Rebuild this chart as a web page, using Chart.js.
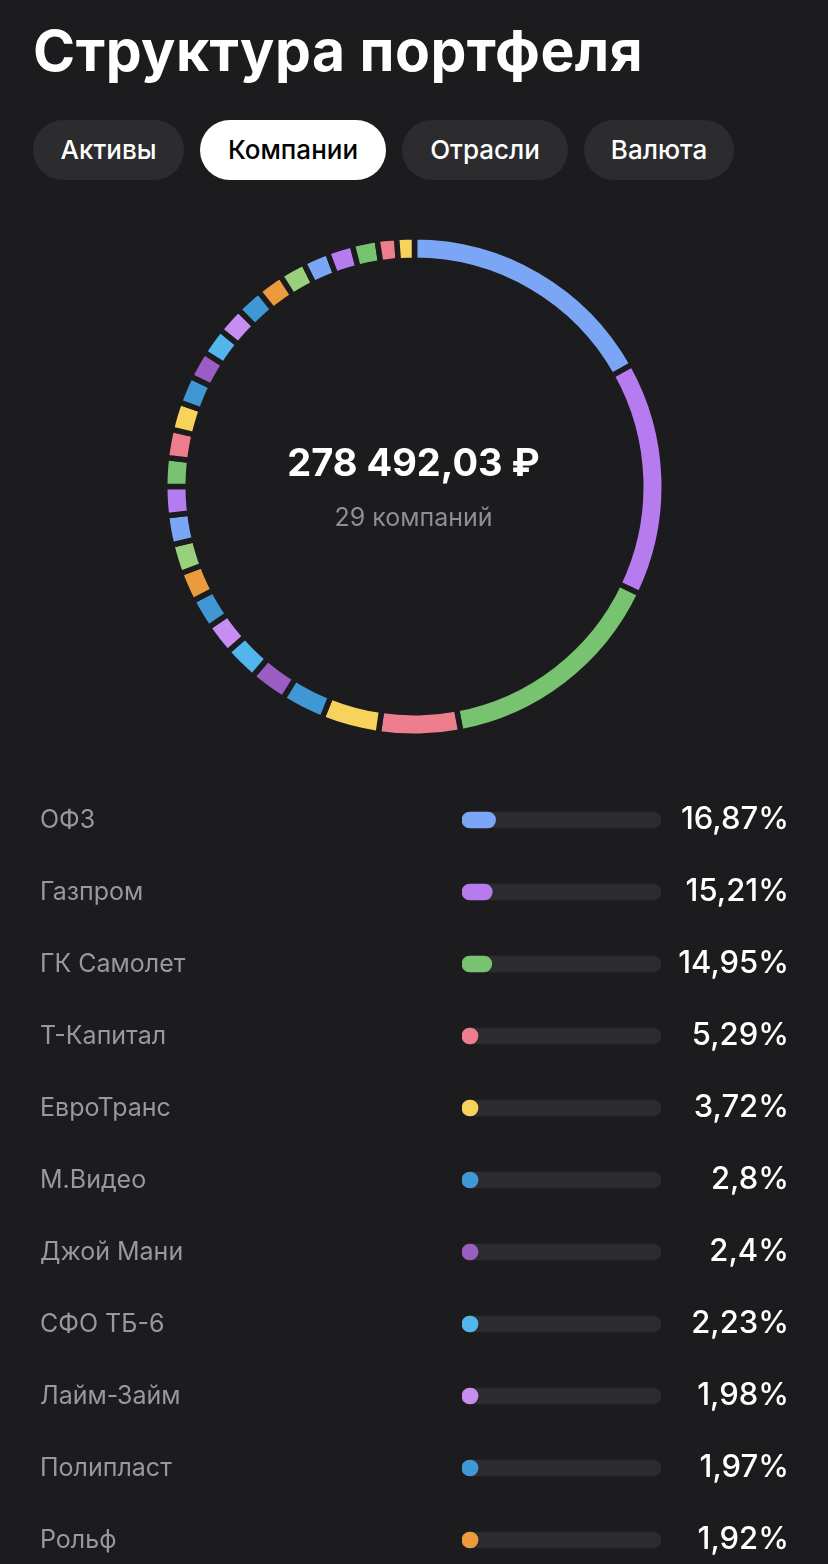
<!DOCTYPE html>
<html lang="ru">
<head>
<meta charset="utf-8">
<script src="https://cdn.jsdelivr.net/npm/chart.js@4.4.1/dist/chart.umd.min.js"></script>
<style>
  html, body { margin: 0; padding: 0; background: #1C1C1E; }
  body { width: 828px; height: 1564px; overflow: hidden; position: relative; font-family: Inter, "Noto Sans", sans-serif; }
  #title { position: absolute; left: 33px; top: 22px; font-size: 57px; font-weight: 700; color: #FFFFFF; line-height: 57px; letter-spacing: 0.5px; white-space: nowrap; }
  .tab { position: absolute; top: 120px; height: 60px; border-radius: 30px; background: #2C2C2E; color: #FFFFFF; font-size: 26px; font-weight: 500; line-height: 60px; text-align: center; white-space: nowrap; }
  .tab.active { background: #FFFFFF; color: #000000; }
  #donutBox { position: absolute; left: 161.5px; top: 234px; width: 505px; height: 505px; }
  #centerSum { position: absolute; left: 164px; width: 499px; top: 440px; text-align: center; font-size: 38px; font-weight: 700; color: #FFFFFF; line-height: 44px; white-space: nowrap; }
  #centerSub { position: absolute; left: 164px; width: 499px; top: 502px; text-align: center; font-size: 25px; font-weight: 400; color: #8E8E93; line-height: 30px; white-space: nowrap; }
  #listBox { position: absolute; left: 0; top: 784px; width: 828px; height: 792px; }
</style>
</head>
<body>
<div id="title">Структура портфеля</div>
<div class="tab" style="left:33px;width:151px;">Активы</div>
<div class="tab active" style="left:200px;width:186px;">Компании</div>
<div class="tab" style="left:402px;width:166px;">Отрасли</div>
<div class="tab" style="left:584px;width:150px;">Валюта</div>

<div id="donutBox"><canvas id="donut"></canvas></div>
<div id="centerSum">278 492,03 ₽</div>
<div id="centerSub">29 компаний</div>

<div id="listBox"><canvas id="list"></canvas></div>

<script>
// ---- data ----
const companies = ["ОФЗ", "Газпром", "ГК Самолет", "Т-Капитал", "ЕвроТранс", "М.Видео", "Джой Мани", "СФО ТБ-6", "Лайм-Займ", "Полипласт", "Рольф",
  "Компания 12", "Компания 13", "Компания 14", "Компания 15", "Компания 16", "Компания 17", "Компания 18", "Компания 19", "Компания 20",
  "Компания 21", "Компания 22", "Компания 23", "Компания 24", "Компания 25", "Компания 26", "Компания 27", "Компания 28", "Компания 29"];
const shares = [16.87, 15.21, 14.95, 5.29, 3.72, 2.8, 2.4, 2.23, 1.98, 1.97, 1.92,
  1.90, 1.89, 1.87, 1.85, 1.83, 1.81, 1.79, 1.77, 1.75, 1.74, 1.73, 1.71, 1.69, 1.67, 1.65, 1.62, 1.25, 1.14];
const shareLabels = ["16,87%", "15,21%", "14,95%", "5,29%", "3,72%", "2,8%", "2,4%", "2,23%", "1,98%", "1,97%", "1,92%"];
const palette = ["#7BA6F6", "#B67BEF", "#78C370", "#EE7D8E", "#F8D35C", "#3F98D3", "#9A5DC3", "#52B5EC", "#C78DF2", "#3F98D3", "#EB9B3D", "#99D07E"];
const visibleRows = 11;

const colors = shares.map((_, i) => palette[i % palette.length]);

// ---- doughnut ----
new Chart(document.getElementById('donut'), {
  type: 'doughnut',
  data: {
    labels: companies,
    datasets: [{
      data: shares,
      backgroundColor: colors,
      borderColor: '#1C1C1E',
      borderWidth: 5.5,
      spacing: 0
    }]
  },
  options: {
    responsive: true,
    maintainAspectRatio: false,
    animation: false,
    cutout: '90.59%',
    layout: { padding: 0 },
    plugins: { legend: { display: false }, tooltip: { enabled: false } }
  }
});

// ---- list of bars ----
const rowNames = companies.slice(0, visibleRows);
const rowValues = shares.slice(0, visibleRows);
const rowColors = colors.slice(0, visibleRows);
const trackValues = rowNames.map(() => 100);

const noPad = (s, w) => { s.width = w; s.paddingTop = 0; s.paddingBottom = 0; };

new Chart(document.getElementById('list'), {
  type: 'bar',
  data: {
    labels: rowNames,
    datasets: [
      {
        data: rowValues,
        backgroundColor: rowColors,
        barThickness: 16,
        borderRadius: 8,
        borderSkipped: false,
        minBarLength: 16,
        grouped: false,
        order: 0
      },
      {
        data: trackValues,
        backgroundColor: '#2C2C2E',
        barThickness: 16,
        borderRadius: 8,
        borderSkipped: false,
        grouped: false,
        order: 1
      }
    ]
  },
  options: {
    indexAxis: 'y',
    responsive: true,
    maintainAspectRatio: false,
    animation: false,
    layout: { padding: { left: 40, right: 39, top: 0, bottom: 0 } },
    plugins: { legend: { display: false }, tooltip: { enabled: false } },
    scales: {
      x: { min: 0, max: 100, display: false },
      y: {
        position: 'left',
        grid: { display: false },
        border: { display: false },
        ticks: { crossAlign: 'far', color: '#98989D', font: { family: 'Inter', size: 25, weight: 400 }, padding: 0 },
        afterFit: (s) => noPad(s, 422)
      },
      y2: {
        type: 'category',
        axis: 'y',
        position: 'right',
        labels: shareLabels,
        offset: true,
        grid: { display: false },
        border: { display: false },
        ticks: { crossAlign: 'far', color: '#FFFFFF', font: { family: 'Inter', size: 31, weight: 500 }, padding: 0 },
        afterFit: (s) => noPad(s, 128)
      }
    }
  }
});
</script>
</body>
</html>
